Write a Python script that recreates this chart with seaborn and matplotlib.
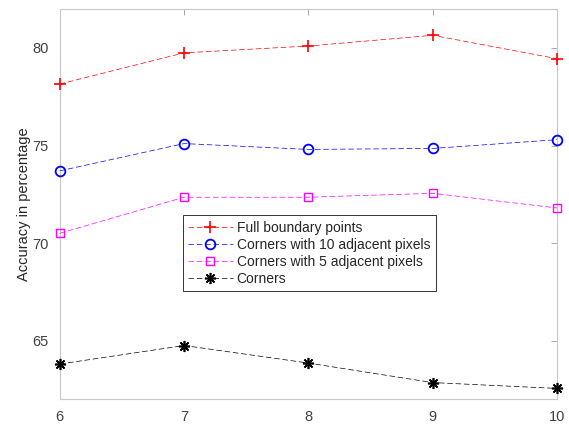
import matplotlib
matplotlib.use("Agg")
import matplotlib.pyplot as plt
import seaborn as sns

# x values (number of ...)
x_vals = [6, 7, 8, 9, 10]

full_boundary = [78.15, 79.75, 80.1, 80.65, 79.45]
corners_10 = [73.7, 75.1, 74.8, 74.85, 75.3]
corners_5 = [70.5, 72.35, 72.35, 72.55, 71.8]
corners = [63.8, 64.75, 63.85, 62.85, 62.55]

labels = ['Full boundary points', 'Corners with 10 adjacent pixels',
          'Corners with 5 adjacent pixels', 'Corners']

sns.set_style('white')
plt.rcParams['font.family'] = ['Liberation Sans', 'DejaVu Sans']

fig, ax = plt.subplots(figsize=(5.69, 4.26), dpi=100)
fig.subplots_adjust(left=0.105, right=0.979, top=0.979, bottom=0.063)

series = [
    (full_boundary, 'red', '+', 9, 1.2),
    (corners_10, 'blue', 'o', 7, 1.3),
    (corners_5, 'magenta', 's', 6, 1.0),
    (corners, 'black', (8, 2, 0), 8, 1.2),
]
for (vals, col, mk, ms, mew), lab in zip(series, labels):
    sns.lineplot(x=x_vals, y=vals, ax=ax, color=col, marker=mk, markersize=ms,
                 markeredgewidth=mew, markerfacecolor='none', markeredgecolor=col,
                 linestyle=(0, (8, 4)), linewidth=0.5, label=lab, clip_on=False,
                 zorder=3)

ax.set_xlim(6, 10)
ax.set_ylim(62, 82)
ax.set_xticks([6, 7, 8, 9, 10])
ax.set_yticks([65, 70, 75, 80])
ax.set_ylabel('Accuracy in percentage', fontsize=10.5, color='#262626',
              labelpad=1)
ax.tick_params(direction='in', length=4, width=0.7, color='#a8a8a8',
               labelsize=10.5, labelcolor='#404040', top=True, right=True,
               pad=8)
for sp in ax.spines.values():
    sp.set_color('#c8c8c8')
    sp.set_linewidth(0.8)

leg = ax.legend(loc='upper left', bbox_to_anchor=(0.247, 0.472), fontsize=10,
                frameon=True, fancybox=False, framealpha=1, edgecolor='#333333',
                borderpad=0.4, labelspacing=0.22, handlelength=3.2,
                handletextpad=0.3, borderaxespad=0)
leg.get_frame().set_linewidth(0.7)
leg.set_zorder(5)

fig.savefig('out.png', dpi=100)
